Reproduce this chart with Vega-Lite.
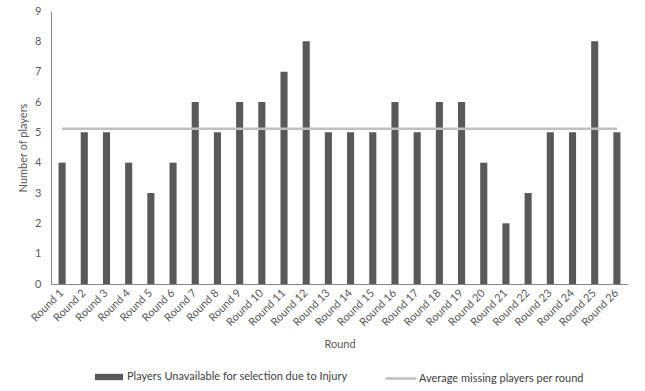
{
  "$schema": "https://vega.github.io/schema/vega-lite/v6.json",
  "width": 577,
  "height": 273,
  "autosize": {"type": "none"},
  "padding": {"left": 51, "top": 11, "right": 17, "bottom": 107},
  "background": "white",
  "data": {
    "values": [
      {"round": "Round 1", "players": 4, "avg": 5.115},
      {"round": "Round 2", "players": 5, "avg": 5.115},
      {"round": "Round 3", "players": 5, "avg": 5.115},
      {"round": "Round 4", "players": 4, "avg": 5.115},
      {"round": "Round 5", "players": 3, "avg": 5.115},
      {"round": "Round 6", "players": 4, "avg": 5.115},
      {"round": "Round 7", "players": 6, "avg": 5.115},
      {"round": "Round 8", "players": 5, "avg": 5.115},
      {"round": "Round 9", "players": 6, "avg": 5.115},
      {"round": "Round 10", "players": 6, "avg": 5.115},
      {"round": "Round 11", "players": 7, "avg": 5.115},
      {"round": "Round 12", "players": 8, "avg": 5.115},
      {"round": "Round 13", "players": 5, "avg": 5.115},
      {"round": "Round 14", "players": 5, "avg": 5.115},
      {"round": "Round 15", "players": 5, "avg": 5.115},
      {"round": "Round 16", "players": 6, "avg": 5.115},
      {"round": "Round 17", "players": 5, "avg": 5.115},
      {"round": "Round 18", "players": 6, "avg": 5.115},
      {"round": "Round 19", "players": 6, "avg": 5.115},
      {"round": "Round 20", "players": 4, "avg": 5.115},
      {"round": "Round 21", "players": 2, "avg": 5.115},
      {"round": "Round 22", "players": 3, "avg": 5.115},
      {"round": "Round 23", "players": 5, "avg": 5.115},
      {"round": "Round 24", "players": 5, "avg": 5.115},
      {"round": "Round 25", "players": 8, "avg": 5.115},
      {"round": "Round 26", "players": 5, "avg": 5.115}
    ]
  },
  "encoding": {
    "x": {
      "field": "round",
      "type": "nominal",
      "sort": null,
      "scale": {"paddingInner": 0.68, "paddingOuter": 0.34},
      "axis": {
        "title": "Round",
        "labelAngle": -45,
        "labelAlign": "right",
        "labelBaseline": "middle",
        "labelPadding": 7,
        "labelOverlap": false,
        "ticks": false,
        "domainColor": "#868686",
        "titlePadding": 11
      }
    }
  },
  "layer": [
    {
      "mark": {"type": "bar"},
      "encoding": {
        "y": {
          "field": "players",
          "type": "quantitative",
          "scale": {"domain": [0, 9], "nice": false},
          "axis": {
            "title": "Number of players",
            "values": [0, 1, 2, 3, 4, 5, 6, 7, 8, 9],
            "labelOverlap": false,
            "grid": false,
            "ticks": false,
            "domainColor": "#868686",
            "labelPadding": 10,
            "titlePadding": 6
          }
        },
        "color": {
          "datum": "Players Unavailable for selection due to Injury",
          "type": "nominal",
          "scale": {"range": ["#595959"]},
          "legend": {
            "title": null,
            "orient": "bottom",
            "symbolType": "M-1,-0.45H3V0.45H-1Z",
            "symbolSize": 196,
            "symbolStrokeWidth": 0,
            "labelOffset": 18,
            "labelLimit": 0,
            "offset": 20
          }
        }
      }
    },
    {
      "mark": {"type": "line", "strokeWidth": 2.5},
      "encoding": {
        "y": {
          "field": "avg",
          "type": "quantitative",
          "axis": {
            "title": "Number of players",
            "values": [0, 1, 2, 3, 4, 5, 6, 7, 8, 9],
            "labelOverlap": false,
            "grid": false,
            "ticks": false,
            "domainColor": "#868686",
            "labelPadding": 10,
            "titlePadding": 6
          }
        },
        "stroke": {
          "datum": "Average missing players per round",
          "type": "nominal",
          "scale": {"range": ["#BFBFBF"]},
          "legend": {
            "title": null,
            "orient": "bottom",
            "symbolType": "M-1,0H3.4",
            "symbolSize": 196,
            "symbolStrokeWidth": 2.5,
            "symbolFillColor": "transparent",
            "labelOffset": 18,
            "labelLimit": 0,
            "offset": 20
          }
        }
      }
    }
  ],
  "resolve": {"axis": {"y": "shared"}},
  "config": {
    "font": "Lato",
    "view": {"stroke": null},
    "axis": {
      "labelFont": "Lato",
      "labelFontSize": 11,
      "labelColor": "#595959",
      "titleFont": "Lato",
      "titleFontSize": 11,
      "titleFontWeight": "normal",
      "titleColor": "#595959"
    },
    "legend": {
      "labelFont": "Lato",
      "labelFontSize": 11,
      "labelColor": "#404040",
      "layout": {"bottom": {"anchor": "middle", "direction": "horizontal", "margin": 36}}
    }
  }
}
